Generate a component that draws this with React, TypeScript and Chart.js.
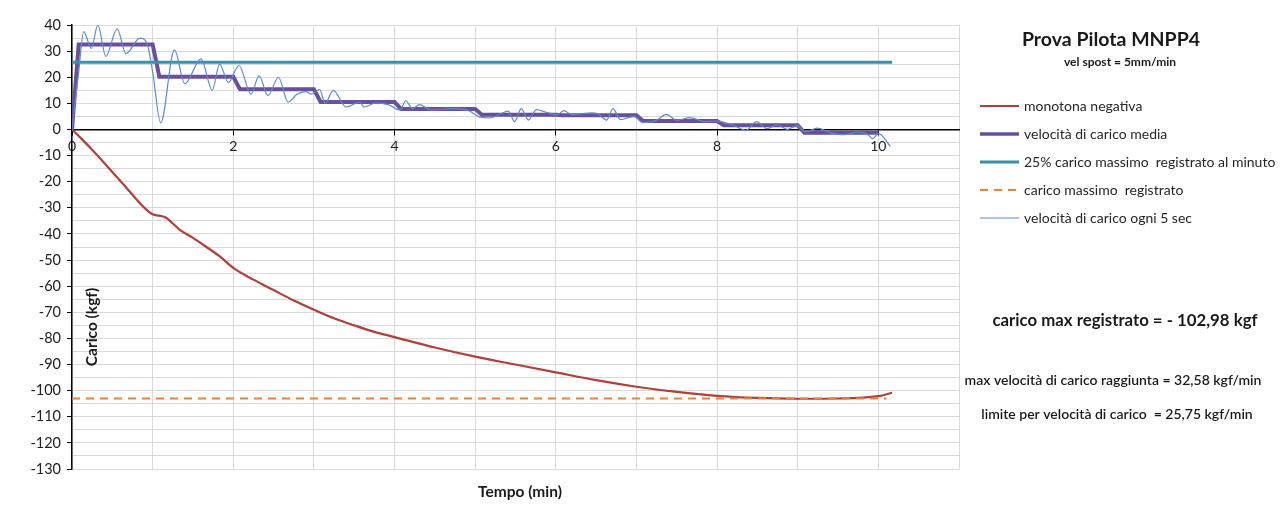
import React, { useEffect, useRef } from 'react';
import { Chart, registerables } from 'chart.js';

Chart.register(...registerables);

// ---- data (time in minutes, load in kgf) ----
const monoT = [0, 0.125, 0.25, 0.375, 0.5, 0.625, 0.75, 0.875, 1.0, 1.083, 1.167, 1.25, 1.333, 1.5, 1.667, 1.833, 2.0, 2.25, 2.5, 2.75, 3.0, 3.25, 3.5, 3.75, 4.0, 4.5, 5.0, 5.5, 6.0, 6.5, 7.0, 7.5, 8.0, 8.5, 9.0, 9.5, 10.0, 10.17];
const monoV = [0, -3.8, -7.8, -12, -16.3, -20.6, -25, -29.3, -32.5, -33, -33.8, -36, -38.3, -41.5, -45, -48.6, -53, -57.5, -61.5, -65.5, -69, -72.3, -75, -77.5, -79.5, -83.5, -87, -90, -93, -96, -98.5, -100.5, -102, -102.8, -103.1, -103, -102.1, -100.8];

const mediaT = [0, 0.083, 1.0, 1.083, 2.0, 2.083, 3.0, 3.083, 4.0, 4.083, 5.0, 5.083, 6.0, 6.083, 7.0, 7.083, 8.0, 8.083, 9.0, 9.083, 10.0];
const mediaV = [0, 32.58, 32.58, 20.2, 20.2, 15.4, 15.4, 10.5, 10.5, 7.8, 7.8, 5.6, 5.6, 5.4, 5.4, 3.2, 3.2, 1.6, 1.6, -1.3, -1.3];

const limT = [0, 10.17];
const limV = [25.75, 25.75];

const maxT = [0, 10.1];
const maxV = [-102.98, -102.98];

const rateT = [0, 0.083, 0.145, 0.24, 0.32, 0.42, 0.56, 0.67, 0.84, 0.93, 1.0, 1.1, 1.27, 1.4, 1.6, 1.74, 1.83, 1.94, 2.07, 2.22, 2.32, 2.43, 2.56, 2.68, 2.79, 2.9, 2.97, 3.07, 3.14, 3.24, 3.4, 3.57, 3.62, 3.77, 3.92, 4.07, 4.14, 4.22, 4.31, 4.45, 4.7, 4.9, 5.06, 5.18, 5.33, 5.41, 5.49, 5.57, 5.66, 5.76, 5.88, 6.02, 6.1, 6.2, 6.45, 6.52, 6.63, 6.71, 6.8, 6.97, 7.08, 7.25, 7.37, 7.5, 7.66, 7.85, 8.0, 8.2, 8.36, 8.49, 8.62, 8.74, 8.87, 8.99, 9.1, 9.24, 9.4, 9.57, 9.75, 9.86, 9.93, 10.0, 10.15];
const rateV = [0, 22, 37.5, 31, 40, 28, 38.5, 29, 35, 33, 22, 2.5, 30.5, 17.5, 27, 15, 25, 18, 24.5, 13.5, 20.5, 13, 20, 10.5, 13.5, 14.5, 13.5, 15.3, 10, 15, 8.6, 10.5, 8.6, 10.2, 9.5, 7.5, 11, 8, 9.5, 7.5, 8, 7.5, 4.7, 4.4, 6.2, 7, 3, 8, 3.6, 7.6, 6.6, 5.7, 7.2, 5.7, 6.4, 6, 3.6, 8, 3.8, 5, 2.6, 3.5, 5.8, 3.5, 4.5, 3, 3.2, 1.6, -0.3, 3, 0.3, 1.8, 0, 1.5, -1, 0.5, -1.2, -2, -1, -1.7, -3.5, -1.5, -6.5];

const seriesLabels = [
  'monotona negativa',
  'velocità di carico media',
  '25% carico massimo  registrato al minuto',
  'carico massimo  registrato',
  'velocità di carico ogni 5 sec',
];

const chartTitle = 'Prova Pilota MNPP4';
const chartSubtitle = 'vel spost = 5mm/min';
const noteMax = 'carico max registrato = - 102,98 kgf';
const noteVel = 'max velocità di carico raggiunta = 32,58 kgf/min';
const noteLim = 'limite per velocità di carico  = 25,75 kgf/min';
const yTitle = 'Carico (kgf)';
const xTitle = 'Tempo (min)';

const X_MIN = 0;
const X_MAX = 11;
const Y_MIN = -130;
const Y_MAX = 40;

const FONT = 'Lato, "Open Sans", sans-serif';

const pts = (t: number[], v: number[]) => t.map((x, i) => ({ x, y: v[i] }));

const decorPlugin = {
  id: 'decor',
  beforeDraw(chart: any) {
    const { ctx, width, height } = chart;
    ctx.save();
    ctx.fillStyle = '#ffffff';
    ctx.fillRect(0, 0, width, height);
    ctx.restore();
  },
  afterDraw(chart: any) {
    const { ctx } = chart;
    ctx.save();
    ctx.fillStyle = '#1a1a1a';
    ctx.textAlign = 'center';
    ctx.textBaseline = 'middle';
    ctx.font = `bold 19.5px ${FONT}`;
    ctx.fillText(chartTitle, 1111, 40);
    ctx.font = `bold 12px ${FONT}`;
    ctx.fillText(chartSubtitle, 1120, 62);

    // legend
    const ys = [106, 134, 162, 190, 218];
    chart.data.datasets.forEach((ds: any, i: number) => {
      const y = ys[i];
      ctx.save();
      ctx.strokeStyle = ds.borderColor;
      ctx.lineWidth = Math.min(ds.borderWidth, 3.5);
      ctx.setLineDash(ds.borderDash || []);
      ctx.beginPath();
      ctx.moveTo(980, y);
      ctx.lineTo(1019, y);
      ctx.stroke();
      ctx.restore();
      ctx.fillStyle = '#262626';
      ctx.textAlign = 'left';
      ctx.font = `14px ${FONT}`;
      ctx.fillText(ds.label, 1024, y);
    });

    ctx.textAlign = 'center';
    ctx.fillStyle = '#1a1a1a';
    ctx.font = `bold 16.8px ${FONT}`;
    ctx.fillText(noteMax, 1125, 321);
    ctx.font = `600 14px ${FONT}`;
    ctx.fillText(noteVel, 1113, 380);
    ctx.fillText(noteLim, 1117, 414);

    ctx.font = `bold 15.5px ${FONT}`;
    ctx.fillText(xTitle, 520, 492);
    ctx.save();
    ctx.translate(92, 327);
    ctx.rotate(-Math.PI / 2);
    ctx.font = `bold 15.5px ${FONT}`;
    ctx.fillText(yTitle, 0, 0);
    ctx.restore();
    ctx.restore();
  },
};

export default function App() {
  const ref = useRef<HTMLCanvasElement | null>(null);

  useEffect(() => {
    if (!ref.current) return;
    const chart = new Chart(ref.current, {
      type: 'line',
      data: {
        datasets: [
          {
            label: seriesLabels[0],
            data: pts(monoT, monoV),
            borderColor: '#B0403A',
            borderWidth: 2.2,
            pointRadius: 0,
            cubicInterpolationMode: 'monotone',
            order: 4,
          },
          {
            label: seriesLabels[1],
            data: pts(mediaT, mediaV),
            borderColor: '#6A4F9C',
            borderWidth: 4,
            pointRadius: 0,
            tension: 0,
            order: 3,
          },
          {
            label: seriesLabels[2],
            data: pts(limT, limV),
            borderColor: '#3A91A6',
            borderWidth: 3,
            pointRadius: 0,
            order: 2,
          },
          {
            label: seriesLabels[3],
            data: pts(maxT, maxV),
            borderColor: '#E8823E',
            borderWidth: 2,
            borderDash: [8, 6],
            pointRadius: 0,
            order: 1,
          },
          {
            label: seriesLabels[4],
            data: pts(rateT, rateV),
            borderColor: '#5B8BC8',
            borderWidth: 1.2,
            pointRadius: 0,
            cubicInterpolationMode: 'monotone',
            order: 0,
          },
        ] as any,
      },
      options: {
        responsive: false,
        animation: false,
        layout: { padding: { top: 25, right: 326, bottom: 36, left: 0 } },
        plugins: {
          legend: { display: false },
          tooltip: { enabled: false },
          title: { display: false },
        },
        scales: {
          x: {
            type: 'linear',
            min: X_MIN,
            max: X_MAX,
            position: { y: 0 } as any,
            ticks: {
              stepSize: 1,
              autoSkip: false,
              maxRotation: 0,
              padding: 4,
              color: '#222',
              font: { family: FONT, size: 14 },
              callback: (v: any) => (Number(v) % 2 === 0 && Number(v) <= 10 ? String(v) : ''),
            },
            grid: {
              color: '#d9d9d9',
              lineWidth: 1,
              tickLength: 5,
              tickColor: (c: any) => (c.tick && c.tick.value % 2 === 0 && c.tick.value <= 10 ? '#000' : 'rgba(0,0,0,0)'),
            },
            border: { color: '#000', width: 1.5 },
          },
          y: {
            type: 'linear',
            min: Y_MIN,
            max: Y_MAX,
            position: 'left',
            afterFit: (s: any) => {
              s.width = 72;
            },
            ticks: {
              stepSize: 5,
              autoSkip: false,
              padding: 6,
              color: '#222',
              font: { family: FONT, size: 14.5 },
              callback: (v: any) => (Number(v) % 10 === 0 ? String(v) : ''),
            },
            grid: {
              color: '#d9d9d9',
              lineWidth: 1,
              tickLength: 5,
              tickColor: (c: any) => (c.tick && c.tick.value % 10 === 0 ? '#000' : 'rgba(0,0,0,0)'),
            },
            border: { color: '#000', width: 1.5 },
          },
        },
      },
      plugins: [decorPlugin],
    });
    return () => chart.destroy();
  }, []);

  return (
    <div style={{ position: 'absolute', left: 0, top: 0, width: 1285, height: 505 }}>
      <canvas ref={ref} width={1285} height={505} style={{ display: 'block', width: 1285, height: 505 }} />
    </div>
  );
}
